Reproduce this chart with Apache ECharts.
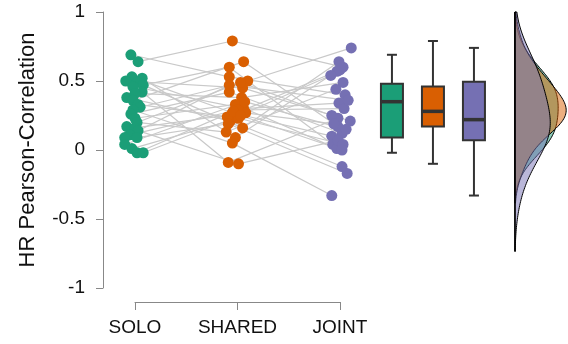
<!DOCTYPE html>
<html>
<head>
<meta charset="utf-8">
<script src="https://cdn.jsdelivr.net/npm/echarts@6/dist/echarts.min.js"></script>
<style>
html,body{margin:0;padding:0;background:#fff;}
#chart{width:568px;height:344px;}
</style>
</head>
<body>
<div id="chart"></div>
<script>
const categories = ['SOLO', 'SHARED', 'JOINT'];
const yTicks = [-1, -0.5, 0, 0.5, 1];

// per-subject values (same index = same subject)
const solo   = [0.69,0.64,0.53,0.52,0.50,0.49,0.47,0.46,0.42,0.41,0.38,0.36,0.33,0.31,0.29,0.26,0.23,0.20,0.17,0.16,0.14,0.11,0.09,0.09,0.04,0.01,-0.02,-0.02];
const shared = [0.53,0.79,0.27,0.09,0.45,0.16,0.60,0.30,-0.09,0.38,0.21,0.64,0.24,0.50,0.05,0.42,0.33,0.13,0.49,0.27,-0.10,0.29,0.47,0.19,0.35,0.23,0.28,0.25];
const joint  = [0.40,0.60,0.10,0.57,0.21,0.64,0.04,0.34,0.23,0.49,-0.12,0.17,0.58,0.74,-0.33,0.12,0.01,0.44,0.25,0.54,0.07,0.30,0.36,-0.17,0.15,0.04,0.19,0.00];

// horizontal jitter (category units)
const soloJitter   = [-0.04,0.03,-0.03,0.07,-0.09,0.02,0.08,-0.02,0.07,0,-0.08,-0.02,0.03,0.05,-0.02,-0.04,0,0.02,-0.08,0,0.03,-0.05,-0.1,0.02,-0.1,-0.03,0.02,0.08];
const sharedJitter = [-0.08,-0.05,-0.05,-0.02,0.05,0.05,-0.08,0.06,-0.09,0.04,-0.07,0.06,-0.1,0.1,-0.05,-0.08,-0.02,-0.11,0.03,0.08,0.01,0,-0.08,-0.09,0.07,0.01,-0.04,0.03];
const jointJitter  = [0.05,0.03,-0.08,-0.03,0.1,-0.01,-0.07,-0.01,-0.02,0.03,0.02,-0.02,0,0.11,-0.08,0.02,-0.03,-0.04,-0.08,-0.09,-0.02,0.04,0.08,0.07,0.06,0.03,-0.06,0.02];

// box statistics
const boxMin = [-0.02, -0.10, -0.33];
const boxQ1  = [0.09, 0.17, 0.07];
const boxMed = [0.35, 0.28, 0.22];
const boxQ3  = [0.48, 0.46, 0.495];
const boxMax = [0.69, 0.79, 0.74];

const colors = ['#1b9e77', '#d95f02', '#7570b3'];
const fills = ['rgba(27,158,119,0.5)', 'rgba(217,95,2,0.5)', 'rgba(117,112,179,0.5)'];

// ---- layout constants (axis units of main x axis) ----
const X_MIN = 0.688, X_MAX = 5.2246;
const BOX_POS = [3.507, 3.907, 4.307];
const DENS_BASE = 4.707;
const DENS_MAXW = 0.5;
const BW_ADJUST = 1.5, CUT = 2.2;

// ---- KDE (gaussian, Silverman nrd0) ----
function quantile(sorted, p){ const h=(sorted.length-1)*p; const lo=Math.floor(h); return sorted[lo]+(sorted[Math.min(lo+1,sorted.length-1)]-sorted[lo])*(h-lo); }
function kde(vals){
  const n=vals.length, mean=vals.reduce((a,b)=>a+b,0)/n;
  const sd=Math.sqrt(vals.reduce((a,b)=>a+(b-mean)*(b-mean),0)/(n-1));
  const s=[...vals].sort((a,b)=>a-b);
  const iqr=quantile(s,0.75)-quantile(s,0.25);
  const bw=BW_ADJUST*0.9*Math.min(sd, iqr/1.34)*Math.pow(n,-0.2);
  const lo=s[0]-CUT*bw, hi=Math.min(1, s[n-1]+CUT*bw), N=120, out=[];
  for(let i=0;i<=N;i++){
    const y=lo+(hi-lo)*i/N; let d=0;
    for(const v of vals){ const z=(y-v)/bw; d+=Math.exp(-0.5*z*z); }
    out.push([y, d/(n*bw*Math.sqrt(2*Math.PI))]);
  }
  out.unshift([lo, 0]); out.push([hi, 0]);
  return {pts: out, lo, hi};
}
const dens = [kde(solo), kde(shared), kde(joint)];
const dMax = Math.max(...dens.map(k=>Math.max(...k.pts.map(p=>p[1]))));
const dLo = Math.min(...dens.map(k=>k.lo)), dHi = Math.max(...dens.map(k=>k.hi));

const groups = [[solo, soloJitter], [shared, sharedJitter], [joint, jointJitter]];

const series = [];
for (let i = 0; i < solo.length; i++) {
  series.push({
    type: 'line', xAxisIndex: 0, yAxisIndex: 0, silent: true, symbol: 'none', z: 1,
    lineStyle: { color: '#c9c9c9', width: 1.2 },
    data: groups.map((g, k) => [k + 1 + g[1][i], g[0][i]])
  });
}
groups.forEach((g, k) => {
  series.push({
    type: 'scatter', xAxisIndex: 0, yAxisIndex: 0, z: 3, symbolSize: 11,
    itemStyle: { color: colors[k], opacity: 1 },
    data: g[0].map((v, i) => [k + 1 + g[1][i], v])
  });
});
// boxplots
series.push({
  type: 'custom', xAxisIndex: 0, yAxisIndex: 0, z: 4,
  data: categories.map((c, i) => [i, boxMin[i], boxQ1[i], boxMed[i], boxQ3[i], boxMax[i]]),
  renderItem: function (params, api) {
    const i = api.value(0);
    const cx = api.coord([BOX_POS[i], 0])[0];
    const y = k => api.coord([BOX_POS[i], api.value(k)])[1];
    const hw = 11, cw = 5, st = '#333';
    return { type: 'group', children: [
      { type: 'line', shape: { x1: cx, y1: y(1), x2: cx, y2: y(2) }, style: { stroke: st, lineWidth: 2 } },
      { type: 'line', shape: { x1: cx, y1: y(4), x2: cx, y2: y(5) }, style: { stroke: st, lineWidth: 2 } },
      { type: 'line', shape: { x1: cx - cw, y1: y(1), x2: cx + cw, y2: y(1) }, style: { stroke: st, lineWidth: 2 } },
      { type: 'line', shape: { x1: cx - cw, y1: y(5), x2: cx + cw, y2: y(5) }, style: { stroke: st, lineWidth: 2 } },
      { type: 'rect', shape: { x: cx - hw, y: y(4), width: 2 * hw, height: y(2) - y(4) }, style: { fill: colors[i], stroke: st, lineWidth: 2 } },
      { type: 'line', shape: { x1: cx - hw, y1: y(3), x2: cx + hw, y2: y(3) }, style: { stroke: st, lineWidth: 3.5 } }
    ]};
  }
});
// densities
series.push({
  type: 'custom', xAxisIndex: 0, yAxisIndex: 0, z: 2,
  data: [[0], [1], [2]],
  renderItem: function (params, api) {
    const k = params.dataIndex;
    const pts = dens[k].pts.map(p => api.coord([DENS_BASE + p[1] / dMax * DENS_MAXW, p[0]]));
    const children = [{ type: 'polygon', shape: { points: pts }, style: { fill: fills[k], stroke: '#000', lineWidth: 1 } }];
    if (k === 2) {
      const a = api.coord([DENS_BASE, dHi]), b = api.coord([DENS_BASE, dLo]);
      children.push({ type: 'line', z2: 10, shape: { x1: a[0], y1: a[1], x2: b[0], y2: b[1] }, style: { stroke: '#000', lineWidth: 1.5 } });
    }
    return { type: 'group', children };
  }
});

const chart = echarts.init(document.getElementById('chart'), null, { renderer: 'canvas' });
chart.setOption({
  animation: false,
  backgroundColor: '#fff',
  textStyle: { fontFamily: 'Liberation Sans, Arial, sans-serif' },
  grid: [
    { left: 103, right: 0, top: 12, bottom: 56 },
    { left: 135, right: 228, top: 12, bottom: 56 }
  ],
  xAxis: [
    { type: 'value', gridIndex: 0, min: X_MIN, max: X_MAX, show: false },
    { type: 'category', gridIndex: 1, data: categories, boundaryGap: false, offset: 14, position: 'bottom',
      axisLine: { show: true, onZero: false, lineStyle: { color: '#888', width: 1 } },
      axisTick: { show: true, length: 8, lineStyle: { color: '#888' } },
      axisLabel: { color: '#111', fontSize: 19, margin: 16, interval: 0 },
      splitLine: { show: false } }
  ],
  yAxis: [
    { type: 'value', gridIndex: 0, min: yTicks[0], max: yTicks[yTicks.length - 1], interval: 0.5,
      name: 'HR Pearson-Correlation', nameLocation: 'middle', nameGap: 64, nameRotate: 90,
      nameTextStyle: { fontSize: 22, color: '#111' },
      axisLine: { show: true, lineStyle: { color: '#888', width: 1 } },
      axisTick: { show: true, length: 7, lineStyle: { color: '#888' } },
      axisLabel: { color: '#111', fontSize: 19, margin: 18 },
      splitLine: { show: false } },
    { type: 'value', gridIndex: 1, min: -1, max: 1, show: false }
  ],
  series: series
});
</script>
</body>
</html>
